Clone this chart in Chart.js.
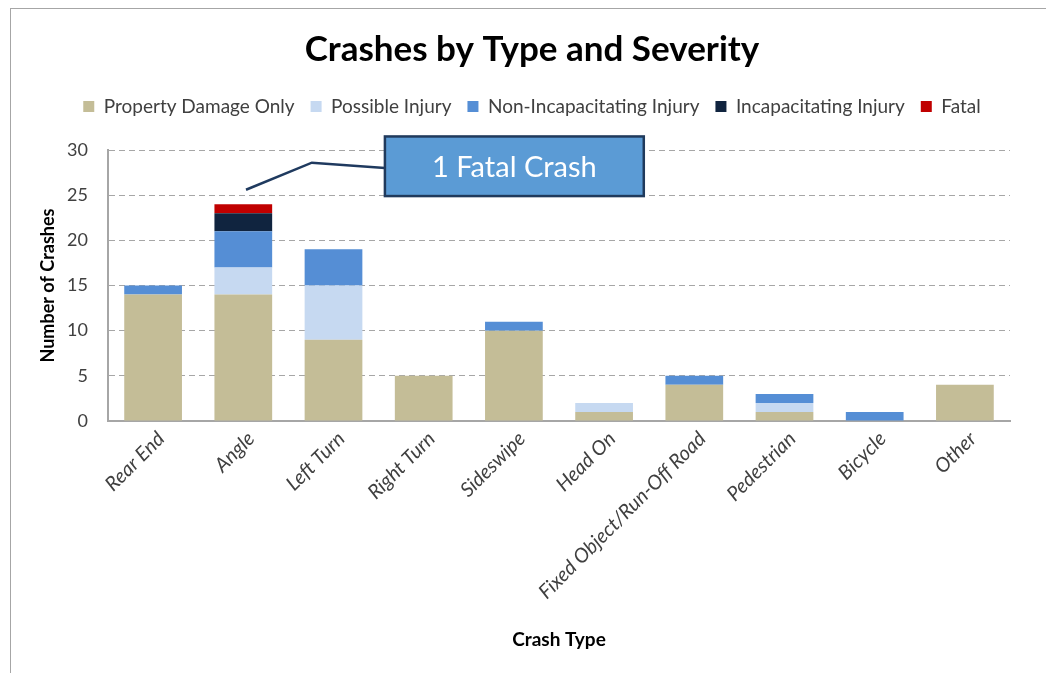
<!DOCTYPE html>
<html>
<head>
<meta charset="utf-8">
<script src="https://cdn.jsdelivr.net/npm/chart.js@4/dist/chart.umd.min.js"></script>
<style>
  html, body { margin: 0; padding: 0; background: #fff; overflow: hidden; }
  #frame { position: absolute; left: 10px; top: 8px; width: 1100px; height: 700px; border-left: 1px solid #A6A6A6; border-top: 1px solid #A6A6A6; }
  #wrap { position: absolute; left: 0; top: 0; width: 1046px; height: 673px; }
</style>
</head>
<body>
<div id="frame"></div>
<div id="wrap"><canvas id="c" width="1046" height="673"></canvas></div>
<script>
const categories = ['Rear End', 'Angle', 'Left Turn', 'Right Turn', 'Sideswipe', 'Head On', 'Fixed Object/Run-Off Road', 'Pedestrian', 'Bicycle', 'Other'];
const propertyDamageOnly = [14, 14, 9, 5, 10, 1, 4, 1, 0, 4];
const possibleInjury = [0, 3, 6, 0, 0, 1, 0, 1, 0, 0];
const nonIncapacitatingInjury = [1, 4, 4, 0, 1, 0, 1, 1, 1, 0];
const incapacitatingInjury = [0, 2, 0, 0, 0, 0, 0, 0, 0, 0];
const fatal = [0, 1, 0, 0, 0, 0, 0, 0, 0, 0];
const yTicks = [0, 5, 10, 15, 20, 25, 30];
const calloutText = '1 Fatal Crash';

const FONT = "Lato, 'Open Sans', sans-serif";
const TXT = '#404040';

// Callout anchored in data space (category index, value)
const callout = {
  tip: [1.03, 25.6], elbow: [1.76, 28.6], join: [2.57, 28.0],
  box: { x0: 2.57, x1: 5.44, y0: 31.5, y1: 24.9 }
};

const calloutPlugin = {
  id: 'callout',
  afterDatasetsDraw(chart) {
    const { ctx, scales: { x, y } } = chart;
    const px = v => x.getPixelForValue(0) + v * (x.getPixelForValue(1) - x.getPixelForValue(0));
    const py = v => y.getPixelForValue(v);
    ctx.save();
    ctx.strokeStyle = '#1F3A5F';
    ctx.lineWidth = 2.5;
    ctx.beginPath();
    ctx.moveTo(px(callout.tip[0]), py(callout.tip[1]));
    ctx.lineTo(px(callout.elbow[0]), py(callout.elbow[1]));
    ctx.lineTo(px(callout.join[0]), py(callout.join[1]));
    ctx.stroke();
    const bx0 = px(callout.box.x0), bx1 = px(callout.box.x1);
    const by0 = py(callout.box.y0), by1 = py(callout.box.y1);
    ctx.fillStyle = '#5B9BD5';
    ctx.fillRect(bx0, by0, bx1 - bx0, by1 - by0);
    ctx.lineWidth = 2.5;
    ctx.strokeStyle = '#203A5C';
    ctx.strokeRect(bx0, by0, bx1 - bx0, by1 - by0);
    ctx.fillStyle = '#FFFFFF';
    ctx.font = "29px " + FONT;
    ctx.textAlign = 'center';
    ctx.textBaseline = 'middle';
    ctx.fillText(calloutText, (bx0 + bx1) / 2, (by0 + by1) / 2 + 1);
    ctx.restore();
  }
};

// Adds empty space below the legend row (gap before the plot area)
const legendSpacer = {
  id: 'legendSpacer',
  beforeLayout(chart) {
    const lg = chart.legend;
    if (lg && !lg._spacerPatched) {
      const fit = lg.fit;
      lg.fit = function () { fit.call(this); this.height += 24; };
      lg._spacerPatched = true;
    }
  }
};

const mk = (label, data, color) => ({
  label, data, backgroundColor: color, borderWidth: 0,
  barPercentage: 0.64, categoryPercentage: 1.0
});

new Chart(document.getElementById('c'), {
  type: 'bar',
  data: {
    labels: categories,
    datasets: [
      mk('Property Damage Only', propertyDamageOnly, '#C4BD97'),
      mk('Possible Injury', possibleInjury, '#C6D9F1'),
      mk('Non-Incapacitating Injury', nonIncapacitatingInjury, '#558ED5'),
      mk('Incapacitating Injury', incapacitatingInjury, '#10243F'),
      mk('Fatal', fatal, '#C00000')
    ]
  },
  options: {
    responsive: false,
    animation: false,
    layout: { padding: { left: 54, right: 36, top: 0, bottom: 0 } },
    plugins: {
      title: {
        display: true, text: 'Crashes by Type and Severity', color: '#000',
        font: { family: FONT, size: 35, weight: 'bold' },
        padding: { top: 29, bottom: 10 }
      },
      legend: {
        display: true, position: 'top',
        labels: {
          color: TXT, font: { family: FONT, size: 19 },
          boxWidth: 11, boxHeight: 11, padding: 16
        }
      },
      tooltip: { enabled: false }
    },
    scales: {
      x: {
        stacked: true,
        grid: { display: false, drawTicks: false },
        border: { display: true, color: '#A6A6A6', width: 2 },
        ticks: {
          color: TXT, font: { family: FONT, size: 20, style: 'italic' },
          maxRotation: 45, minRotation: 45, autoSkip: false, padding: 6, labelOffset: 8
        },
        title: {
          display: true, text: 'Crash Type', color: '#000',
          font: { family: FONT, size: 19, weight: 'bold' }, padding: { top: 0, bottom: 22 }
        },
        afterFit: s => { s.height = 252; }
      },
      y: {
        stacked: true, min: 0, max: 30,
        afterBuildTicks: s => { s.ticks = yTicks.map(v => ({ value: v })); },
        grid: { color: '#A6A6A6', lineWidth: 1, drawTicks: false, tickBorderDash: [6, 4] },
        border: { display: true, color: '#A6A6A6', width: 2, dash: [6, 4] },
        ticks: { color: TXT, font: { family: FONT, size: 18 }, padding: 20 },
        title: {
          display: true, text: 'Number of Crashes', color: '#000',
          font: { family: FONT, size: 18, weight: 'bold' }, padding: { top: -17, bottom: 0 }
        },
        afterFit: s => { s.width = 54; }
      }
    }
  },
  plugins: [calloutPlugin, legendSpacer]
});
</script>
</body>
</html>
